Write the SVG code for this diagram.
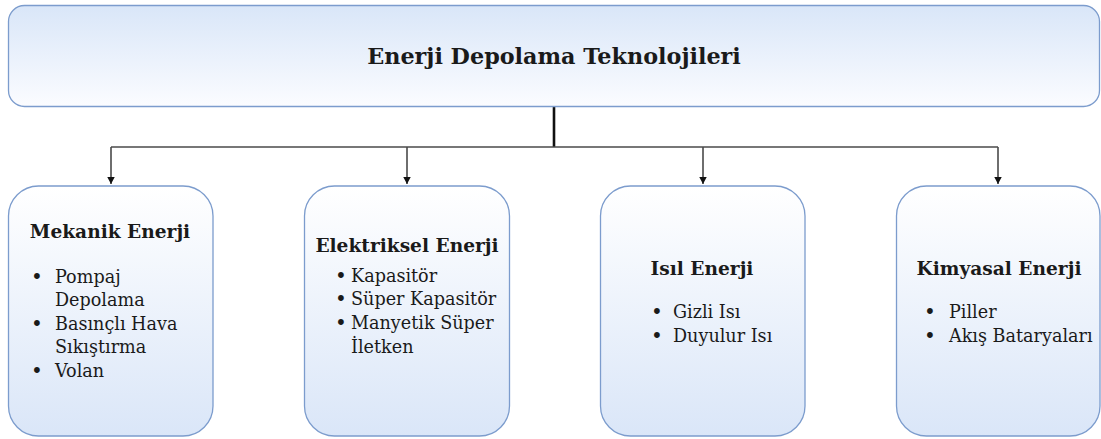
<svg xmlns="http://www.w3.org/2000/svg" width="1101" height="439" viewBox="0 0 1101 439">
<defs>
<linearGradient id="gTop" x1="0" y1="0" x2="0" y2="1">
<stop offset="0" stop-color="#d9e6f8"/>
<stop offset="1" stop-color="#fbfcff"/>
</linearGradient>
<linearGradient id="gBox" x1="0" y1="0" x2="0" y2="1">
<stop offset="0" stop-color="#ffffff"/>
<stop offset="1" stop-color="#dae6f8"/>
</linearGradient>
<marker id="arr" markerWidth="10" markerHeight="10" refX="7.5" refY="4.5" orient="auto" markerUnits="userSpaceOnUse" viewBox="0 0 10 9">
<path d="M0,0.5 L7.5,4.5 L0,8.5 Z" fill="#111"/>
</marker>
</defs>
<style>
.box{stroke:#7c9ccd;stroke-width:1.3}
.t{font-family:"DejaVu Serif","Liberation Serif",serif;fill:#1a1a1a}
.h{font-weight:bold}
.title{font-size:22.3px}
.head{font-size:18.6px}
.body{font-size:17.6px}
.bul{font-size:20px}
.ln{fill:none;stroke:#4a4a4a;stroke-width:1.6}
</style>
<g id="connectors">
<path d="M554,107 V147" fill="none" stroke="#111" stroke-width="2.6"/>
<path d="M111,147 H998" class="ln"/>
<path d="M111,147 V184" class="ln" marker-end="url(#arr)"/>
<path d="M407,147 V184" class="ln" marker-end="url(#arr)"/>
<path d="M703,147 V184" class="ln" marker-end="url(#arr)"/>
<path d="M998,147 V184" class="ln" marker-end="url(#arr)"/>
</g>
<g id="root">
<rect x="8.5" y="5.5" width="1091" height="101" rx="16" class="box" fill="url(#gTop)"/>
<text x="554" y="64" text-anchor="middle" class="t h title">Enerji Depolama Teknolojileri</text>
</g>
<g id="mekanik">
<rect x="8.5" y="186" width="204.5" height="250" rx="30" class="box" fill="url(#gBox)"/>
<text x="110" y="238" text-anchor="middle" class="t h head">Mekanik Enerji</text>
<g class="t body">
<text x="31" y="284" class="bul">•</text>
<text x="55" y="283">Pompaj</text>
<text x="55" y="306">Depolama</text>
<text x="31" y="331" class="bul">•</text>
<text x="55" y="330">Basınçlı Hava</text>
<text x="55" y="353">Sıkıştırma</text>
<text x="31" y="378" class="bul">•</text>
<text x="55" y="377">Volan</text>
</g>
</g>
<g id="elektriksel">
<rect x="304.5" y="186" width="205" height="250" rx="30" class="box" fill="url(#gBox)"/>
<text x="407" y="252" text-anchor="middle" class="t h head">Elektriksel Enerji</text>
<g class="t body">
<text x="335" y="283" class="bul">•</text>
<text x="351" y="282">Kapasitör</text>
<text x="335" y="306" class="bul">•</text>
<text x="351" y="305">Süper Kapasitör</text>
<text x="335" y="330" class="bul">•</text>
<text x="351" y="329">Manyetik Süper</text>
<text x="351" y="353">İletken</text>
</g>
</g>
<g id="isil">
<rect x="600.5" y="186" width="204.5" height="250" rx="30" class="box" fill="url(#gBox)"/>
<text x="702" y="275" text-anchor="middle" class="t h head">Isıl Enerji</text>
<g class="t body">
<text x="651" y="319" class="bul">•</text>
<text x="673" y="318">Gizli Isı</text>
<text x="651" y="343" class="bul">•</text>
<text x="673" y="342">Duyulur Isı</text>
</g>
</g>
<g id="kimyasal">
<rect x="896.5" y="186" width="203.5" height="250" rx="30" class="box" fill="url(#gBox)"/>
<text x="999" y="275" text-anchor="middle" class="t h head">Kimyasal Enerji</text>
<g class="t body">
<text x="924" y="319" class="bul">•</text>
<text x="949" y="318">Piller</text>
<text x="924" y="343" class="bul">•</text>
<text x="949" y="342">Akış Bataryaları</text>
</g>
</g>
</svg>
